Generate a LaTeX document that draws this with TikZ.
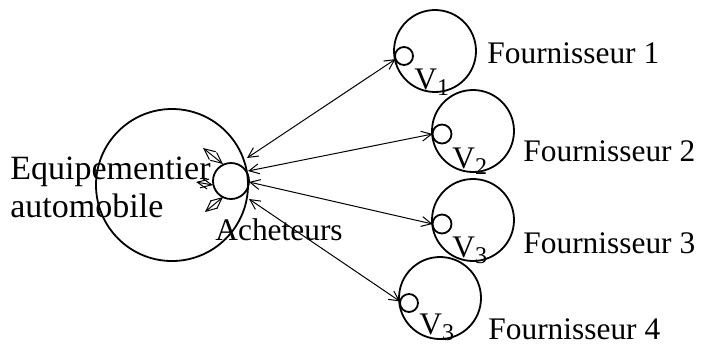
\documentclass[tikz,border=0pt]{standalone}
\usepackage{fontspec}
\setmainfont{Liberation Serif}
\usetikzlibrary{positioning,arrows.meta}

\newcommand{\vlab}[1]{V\raisebox{-.45ex}{\fontsize{12}{12}\selectfont #1}}

\begin{document}
\begin{tikzpicture}[x=0.5pt,y=-0.5pt,>={Straight Barb[length=5pt,width=5pt]},font=\fontsize{15.7}{19}\selectfont]
	\useasboundingbox (0,0) rectangle (701,345);
	\tikzset{ring/.style={circle,draw,line width=0.9pt,inner sep=0pt,outer sep=0pt},
		link/.style={<->,line width=0.5pt},
		tiny/.style={{Straight Barb[length=5.5pt,width=5pt]}-{Straight Barb[length=5.5pt,width=5pt]},line width=0.5pt}}

	% equipementier and buyers
	\node [ring,minimum size=76pt] at (172,185) (equip) {};
	\node [ring,minimum size=18pt] at (231,181) (ach) {};
	\node [anchor=west,align=left,inner sep=0pt,font=\fontsize{17}{19}\selectfont] at (10,187) (equiplab) {Equipementier\\automobile};
	\node [anchor=base west,inner sep=0pt] at (215,240) (achlab) {Acheteurs};

	% suppliers
	\node [ring,minimum size=41pt] at (435,51) (f1) {};
	\node [ring,minimum size=9pt] at (404,56) (s1) {};
	\node [ring,minimum size=41pt] at (473,131) (f2) {};
	\node [ring,minimum size=9.5pt] at (442,134) (s2) {};
	\node [ring,minimum size=41pt] at (473,220) (f3) {};
	\node [ring,minimum size=9.5pt] at (442,224) (s3) {};
	\node [ring,minimum size=41pt] at (440,298) (f4) {};
	\node [ring,minimum size=9pt] at (409,303) (s4) {};

	\node [anchor=base west,inner sep=0pt] at (414,89) (v1) {\vlab{1}};
	\node [anchor=base west,inner sep=0pt] at (452,168) (v2) {\vlab{2}};
	\node [anchor=base west,inner sep=0pt] at (452,257) (v3) {\vlab{3}};
	\node [anchor=base west,inner sep=0pt] at (419,334) (v4) {\vlab{3}};

	\node [anchor=base west,inner sep=0pt] at (487,63) (f1lab) {Fournisseur 1};
	\node [anchor=base west,inner sep=0pt] at (523,161) (f2lab) {Fournisseur 2};
	\node [anchor=base west,inner sep=0pt] at (523,253) (f3lab) {Fournisseur 3};
	\node [anchor=base west,inner sep=0pt] at (488,339) (f4lab) {Fournisseur 4};

	% links
	\coordinate (a1) at (247,158);
	\coordinate (a2) at (248,171);
	\coordinate (a3) at (249,182);
	\coordinate (a4) at (249,199);
	\draw[link] (a1) -- (s1.200);
	\draw[link] (a2) -- (s2.west);
	\draw[link] (a3) -- (s3.west);
	\draw[link] (a4) -- (s4.170);

	% small arrows round the buyers
	\coordinate (t1a) at (203,148);
	\coordinate (t1b) at (223,164);
	\coordinate (t2a) at (196,182);
	\coordinate (t2b) at (213,185);
	\coordinate (t3a) at (205,212);
	\coordinate (t3b) at (223,197);
	\draw[tiny] (t1a) -- (t1b);
	\draw[tiny] (t2a) -- (t2b);
	\draw[tiny] (t3a) -- (t3b);
\end{tikzpicture}
\end{document}
